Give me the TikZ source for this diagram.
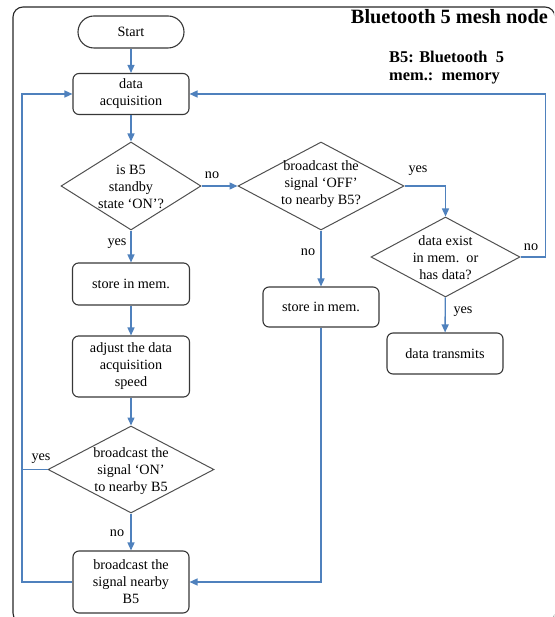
\documentclass[tikz,border=0pt]{standalone}
\usepackage{fontspec}
\setmainfont{Liberation Serif}
\usetikzlibrary{shapes.geometric,arrows.meta}
\definecolor{flowblue}{RGB}{79,129,189}
\definecolor{boxgray}{RGB}{55,55,55}
\definecolor{diagray}{RGB}{80,80,80}
\tikzset{
 box/.style={draw=boxgray, line width=1.1pt, rounded corners=6pt, inner sep=0pt, align=center, font=\fontsize{14.2}{17}\selectfont},
 dia/.style={draw=diagray, line width=1pt, diamond, inner sep=0pt},
 txt/.style={align=center, font=\fontsize{14.2}{17}\selectfont, inner sep=0pt},
 lbl/.style={font=\fontsize{14.2}{16}\selectfont, inner sep=0pt},
 ttl/.style={font=\fontsize{20.3}{24}\selectfont\bfseries, inner sep=0pt},
 sub/.style={font=\fontsize{16.4}{19}\selectfont\bfseries, inner sep=0pt, anchor=west},
 flow/.style={draw=flowblue, line width=1.4pt},
 arr/.style={flow, -{Triangle[length=8pt,width=7pt]}},
 frame/.style={draw=black!85, line width=1.1pt, rounded corners=10pt},
}
\begin{document}
\begin{tikzpicture}[x=1pt,y=-1pt]
\useasboundingbox (0,0) rectangle (554,617);
\begin{scope}
\clip (0,0) rectangle (554,617);
\draw[frame] (13,7) rectangle (555,623);
\end{scope}

% titles
\node[ttl, anchor=east] (title) at (548,17) {Bluetooth 5 mesh node};
\node[sub] (k1) at (389,57) {B5: Bluetooth\ \ 5};
\node[sub] (k2) at (389,78) {mem.:\ \ memory};

% left column
\node[box, rounded corners=16pt, minimum width=106pt, minimum height=32pt] (start) at (131,32) {Start};
\node[box, minimum width=116pt, minimum height=41pt] (acq) at (131,94) {data\\acquisition};
\node[dia, minimum width=140pt, minimum height=88pt] (d1) at (131,186) {};
\node[txt] (d1t) at (131,187) {is B5\\standby\\state ‘ON’?};
\node[box, minimum width=117pt, minimum height=42pt] (store1) at (131,284) {store in mem.};
\node[box, minimum width=117pt, minimum height=61pt] (adjust) at (131,366.5) {adjust the data\\acquisition\\speed};
\node[dia, minimum width=166pt, minimum height=87pt] (d4) at (131,469.5) {};
\node[txt] (d4t) at (131,471) {broadcast the\\signal ‘ON’\\to nearby B5};
\node[box, minimum width=116pt, minimum height=62pt] (bcast) at (131,582) {broadcast the\\signal nearby\\B5};

% middle column
\node[dia, minimum width=166pt, minimum height=88pt] (d2) at (321,186) {};
\node[txt] (d2t) at (321,184) {broadcast the\\signal ‘OFF’\\to nearby B5?};
\node[box, minimum width=116pt, minimum height=40pt] (store2) at (321,307) {store in mem.};

% right column
\node[dia, minimum width=149pt, minimum height=80pt] (d3) at (445.5,257) {};
\node[txt] (d3t) at (445.5,258) {data exist\\in mem.\ \ or\\has data?};
\node[box, minimum width=116pt, minimum height=41pt] (trans) at (445,353.5) {data transmits};

% connectors
\draw[arr] (start) -- (acq);
\draw[arr] (acq) -- (d1);
\draw[arr] (d1) -- (d2);
\draw[arr] (d2.east) -| (d3.north);
\draw[arr] (d3.east) -- ++(25,0) |- (acq.east);
\draw[arr] (d3) -- (trans);
\draw[arr] (d2) -- (store2);
\draw[arr] (store2.south) |- (bcast.east);
\draw[arr] (d1) -- (store1);
\draw[arr] (store1) -- (adjust);
\draw[arr] (adjust) -- (d4);
\draw[arr] (d4) -- (bcast);
\coordinate (lx) at (22,469.5);
\draw[arr] (d4.west) -- (lx) |- (acq.west);
\draw[flow] (bcast.west) -| (lx);

% labels
\node[lbl] (l1) at (212,175) {no};
\node[lbl] (l2) at (418,171) {yes};
\node[lbl] (l3) at (308,252) {no};
\node[lbl] (l4) at (463,312) {yes};
\node[lbl] (l5) at (531,247) {no};
\node[lbl] (l6) at (117,244) {yes};
\node[lbl] (l7) at (41,459) {yes};
\node[lbl] (l8) at (117,533) {no};
\end{tikzpicture}
\end{document}
